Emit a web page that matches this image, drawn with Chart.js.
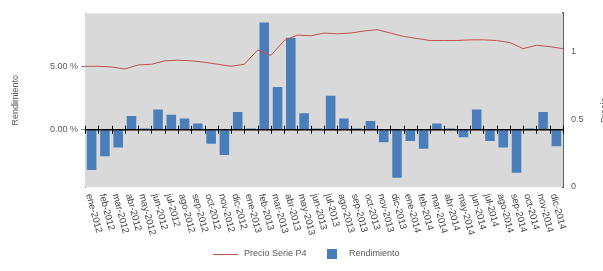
<!DOCTYPE html>
<html><head><meta charset="utf-8">
<script src="https://cdn.jsdelivr.net/npm/chart.js@4/dist/chart.umd.min.js"></script>
<style>html,body{margin:0;padding:0;background:#fff}#c{display:block}</style>
</head><body>
<canvas id="c" width="603" height="271"></canvas>
<script>
const categories = [
 'ene-2012','feb-2012','mar-2012','abr-2012','may-2012','jun-2012','jul-2012','ago-2012','sep-2012','oct-2012','nov-2012','dic-2012',
 'ene-2013','feb-2013','mar-2013','abr-2013','may-2013','jun-2013','jul-2013','ago-2013','sep-2013','oct-2013','nov-2013','dic-2013',
 'ene-2014','feb-2014','mar-2014','abr-2014','may-2014','jun-2014','jul-2014','ago-2014','sep-2014','oct-2014','nov-2014','dic-2014'];
const rendimiento = [-3.2,-2.1,-1.4,1.1,0.1,1.6,1.2,0.9,0.5,-1.1,-2.0,1.4,
 0.1,8.5,3.4,7.3,1.3,0.1,2.7,0.9,0.1,0.7,-1.0,-3.8,
 -0.9,-1.5,0.5,0.1,-0.6,1.6,-0.9,-1.4,-3.4,0.1,1.4,-1.3];
const precioPos = [0,1,2,3,4,5,6,7,8,9,10,11,12,13,14,15,16,17,18,19,20,21,22,23,24,25,26,27,28,29,30,31,32,33,34,35,36];
const precioSerie = [0.89,0.89,0.885,0.87,0.90,0.905,0.93,0.935,0.93,0.92,0.905,0.89,0.905,1.01,0.97,1.08,1.12,1.115,1.135,1.13,1.135,1.15,1.16,1.135,1.11,1.095,1.08,1.08,1.08,1.085,1.085,1.08,1.065,1.02,1.045,1.035,1.02];
const leftTicks = [0, 5];
const rightTicks = [0, 0.5, 1];
const leftRange = [-4.54, 9.23];
const rightRange = [0, 1.28];

const FONT = "'Liberation Sans', Arial, sans-serif";
const TXT = '#595959';
const BAR = '#4a7ebb';
const LINE = '#c0504d';

const deco = {
  id: 'deco',
  beforeDatasetsDraw(chart) {
    const {ctx, chartArea: a} = chart;
    ctx.save();
    ctx.fillStyle = '#d9d9d9';
    ctx.fillRect(a.left, a.top, a.right - a.left, a.bottom - a.top);
    ctx.restore();
  },
  afterDatasetsDraw(chart) {
    const {ctx, chartArea: a, scales} = chart;
    const y0 = scales.y.getPixelForValue(0);
    ctx.save();
    ctx.strokeStyle = '#000';
    ctx.lineWidth = 1.5;
    ctx.beginPath(); ctx.moveTo(a.left, y0); ctx.lineTo(a.right, y0); ctx.stroke();
    ctx.lineWidth = 1;
    for (let i = 0; i <= categories.length; i++) {
      const x = Math.round(scales.xl.getPixelForValue(i)) + 0.5;
      ctx.beginPath(); ctx.moveTo(x, y0 - 4); ctx.lineTo(x, y0 + 4); ctx.stroke();
    }
    ctx.restore();
  },
  afterDraw(chart) {
    const {ctx, chartArea: a, scales} = chart;
    ctx.save();
    ctx.fillStyle = '#404040';
    ctx.font = '9.5px ' + FONT;
    ctx.textAlign = 'left';
    ctx.textBaseline = 'middle';
    categories.forEach((c, i) => {
      const x = scales.x.getPixelForValue(i);
      ctx.save();
      ctx.translate(x - 3, a.bottom + 7);
      ctx.rotate(75 * Math.PI / 180);
      ctx.fillText(c, 0, 0);
      ctx.restore();
    });
    // right axis title (mostly cut off)
    ctx.save();
    ctx.fillStyle = TXT;
    ctx.font = '9px ' + FONT;
    ctx.translate(603, (a.top + a.bottom) / 2 + 10);
    ctx.rotate(-Math.PI / 2);
    ctx.textAlign = 'center';
    ctx.textBaseline = 'top';
    ctx.fillText('Precio', 0, -3);
    ctx.restore();
    // legend
    ctx.font = '9px ' + FONT;
    ctx.fillStyle = TXT;
    ctx.textBaseline = 'middle';
    const ly = 254;
    ctx.strokeStyle = LINE; ctx.lineWidth = 1;
    ctx.beginPath(); ctx.moveTo(213, ly + 0.5); ctx.lineTo(238, ly + 0.5); ctx.stroke();
    ctx.fillText(chart.data.datasets[0].label, 244, ly);
    ctx.fillStyle = BAR;
    ctx.fillRect(327, ly - 5, 10, 10);
    ctx.fillStyle = TXT;
    ctx.fillText(chart.data.datasets[1].label, 349, ly);
    ctx.restore();
  }
};

new Chart(document.getElementById('c'), {
  data: {
    labels: categories,
    datasets: [
      {type: 'line', label: 'Precio Serie P4', data: precioPos.map((p, i) => ({x: p, y: precioSerie[i]})),
       xAxisID: 'xl', yAxisID: 'y1', borderColor: LINE, borderWidth: 1, pointRadius: 0, tension: 0, order: 0},
      {type: 'bar', label: 'Rendimiento', data: rendimiento, xAxisID: 'x', yAxisID: 'y',
       backgroundColor: BAR, categoryPercentage: 1, barPercentage: 0.72, grouped: false, order: 1}
    ]
  },
  options: {
    responsive: false, animation: false,
    layout: {padding: {top: 4, left: 0, right: 0, bottom: 0}},
    plugins: {legend: {display: false}, tooltip: {enabled: false}},
    scales: {
      x: {type: 'category', position: 'bottom', offset: true,
          ticks: {display: false}, grid: {display: false}, border: {display: false},
          afterFit: s => { s.height = 84; }},
      xl: {type: 'linear', display: false, min: 0, max: categories.length},
      y: {type: 'linear', position: 'left', min: leftRange[0], max: leftRange[1],
          afterBuildTicks: s => { s.ticks = leftTicks.map(v => ({value: v})); },
          ticks: {callback: v => v.toFixed(2) + ' %', color: TXT, font: {size: 9, family: FONT}, padding: 3},
          grid: {drawOnChartArea: false, tickLength: 4, color: '#808080'},
          border: {color: '#808080', width: 1},
          title: {display: true, text: 'Rendimiento', color: TXT, font: {size: 9, family: FONT}, padding: {top: 10, bottom: 4}},
          afterFit: s => { s.width = 85; }},
      y1: {type: 'linear', position: 'right', min: rightRange[0], max: rightRange[1],
          afterBuildTicks: s => { s.ticks = rightTicks.map(v => ({value: v})); },
          ticks: {callback: v => String(v), color: TXT, font: {size: 9, family: FONT}, padding: 8},
          grid: {drawOnChartArea: false, drawTicks: false},
          border: {color: '#606060', width: 2},
          afterFit: s => { s.width = 40; }}
    }
  },
  plugins: [deco]
});
</script>
</body></html>
